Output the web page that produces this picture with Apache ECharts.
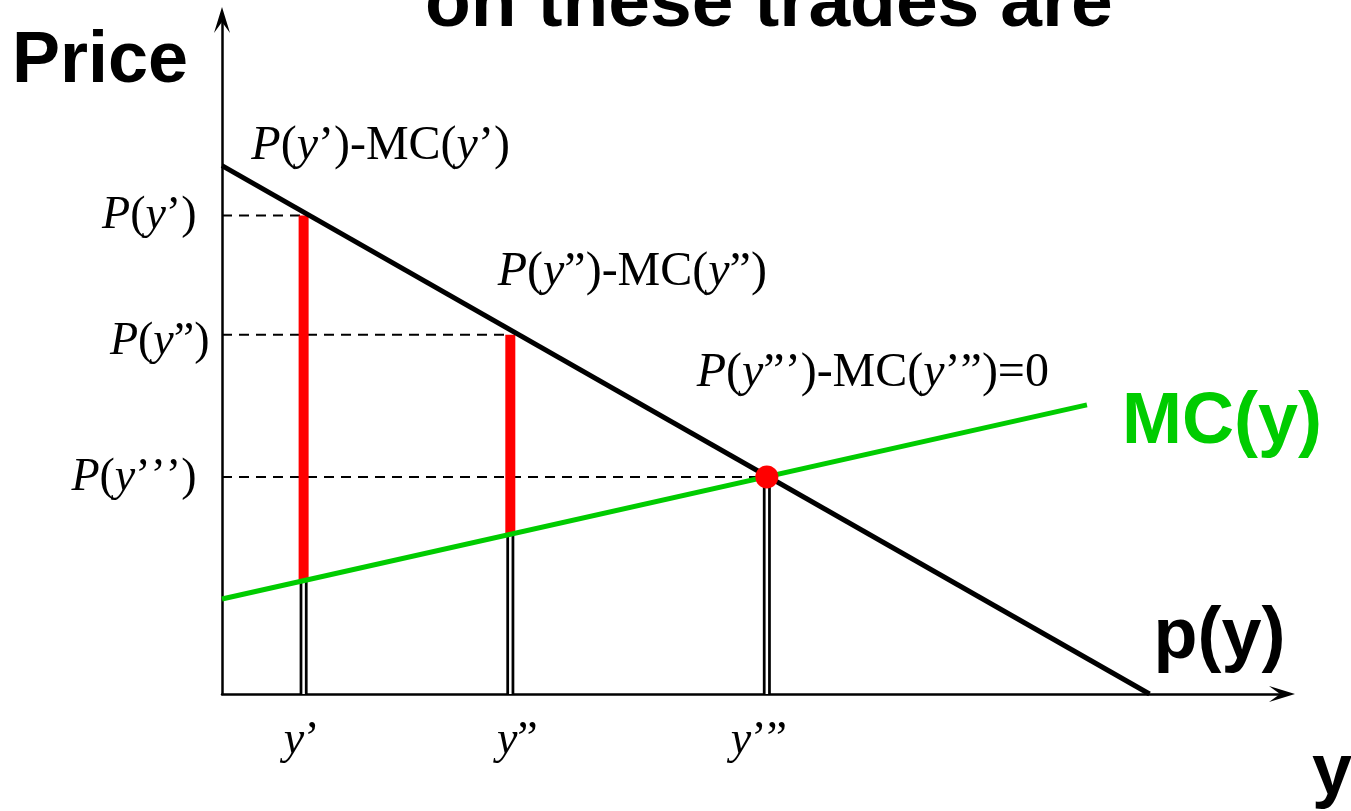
<!DOCTYPE html>
<html lang="en">
<head>
    <meta charset="UTF-8">
    <title>Gains from trade: P(y) - MC(y)</title>
    <script type="text/javascript" src="https://cdn.jsdelivr.net/npm/echarts@6/dist/echarts.min.js"></script>
    <style>
        html, body { margin: 0; padding: 0; background: #fff; }
    </style>
</head>
<body>
<div id="chart" style="width:1351px;height:811px;"></div>
<script type="text/javascript">
    // quantities y', y'', y''' and the prices / marginal costs
    var qty = [7.7, 27.2, 51.4];
    var price = [71.0, 53.3, 32.2];
    var mcAtQty = [16.9, 23.7, 32.2];

    // end points of the two straight lines
    var demand = [[0, 78.4], [87.5, 0]];
    var mc = [[0, 14.1], [81.6, 42.9]];

    var qtyLabels = ['y’', 'y”', 'y’”'];
    var priceLabels = ['P(y’)', 'P(y”)', 'P(y’’’)'];
    var gapLabels = ['P(y’)-MC(y’)', 'P(y”)-MC(y”)', 'P(y”’)-MC(y’”)=0'];

    var serifFont = 'Liberation Serif';
    var sansFont = 'Liberation Sans';

    // P and y in italic, everything else upright
    function serif(s, key) {
        var out = '';
        for (var i = 0; i < s.length; i++) {
            var c = s[i];
            out += (c === 'P' || c === 'y') ? '{' + key + 'i|' + c + '}' : '{' + key + 'n|' + c + '}';
        }
        return out;
    }

    var rich = {
        si: {fontFamily: serifFont, fontStyle: 'italic', fontSize: 46, color: '#000'},
        sn: {fontFamily: serifFont, fontSize: 46, color: '#000'},
        bi: {fontFamily: serifFont, fontStyle: 'italic', fontSize: 48, color: '#000'},
        bn: {fontFamily: serifFont, fontSize: 48, color: '#000'}
    };

    // arrow head pointing up, with a notched back
    var arrow = 'path://M8,0 L16,26 L8,15 L0,26 Z';

    function seg(data, color, width, extra) {
        var s = {
            type: 'line',
            data: data,
            symbol: 'none',
            silent: true,
            animation: false,
            lineStyle: {color: color, width: width, cap: 'butt', opacity: 1}
        };
        if (extra) {
            for (var k in extra) s.lineStyle[k] = extra[k];
        }
        return s;
    }

    var series = [];

    // double stems from the axis up to MC
    for (var i = 0; i < qty.length; i++) {
        series.push(seg([[qty[i], 0], [qty[i], mcAtQty[i]]], '#000', 8));
        series.push(seg([[qty[i], 0], [qty[i], mcAtQty[i]]], '#fff', 2.5));
    }
    // dashed price guides
    for (var i = 0; i < qty.length; i++) {
        series.push(seg([[0, price[i]], [qty[i], price[i]]], '#000', 2, {type: [10, 7]}));
    }
    // red gaps P - MC
    for (var i = 0; i < 2; i++) {
        series.push(seg([[qty[i], mcAtQty[i]], [qty[i], price[i]]], '#ff0000', 10));
    }
    series.push(seg(mc, '#00cc00', 5));
    series.push(seg(demand, '#000', 5));

    // equilibrium dot
    series.push({
        type: 'scatter',
        data: [[qty[2], price[2]]],
        symbolSize: 23,
        silent: true,
        animation: false,
        itemStyle: {color: '#ff0000', opacity: 1},
        z: 5
    });

    // text labels pinned to data points
    var qtyOffsets = [[-2, 47], [7, 47], [-8, 47]];
    var priceDist = [25, 12, 25];
    var priceOffsets = [[0, 0], [0, 7], [0, 1]];
    var gapOffsets = [[77, -69], [122, -62], [106, -104]];
    var textData = [];
    for (var i = 0; i < qty.length; i++) {
        textData.push({
            value: [qty[i], 0],
            label: {show: true, position: 'inside', offset: qtyOffsets[i], formatter: serif(qtyLabels[i], 's'), rich: rich}
        });
        textData.push({
            value: [0, price[i]],
            label: {show: true, position: 'left', distance: priceDist[i], offset: priceOffsets[i], formatter: serif(priceLabels[i], 's'), rich: rich}
        });
        textData.push({
            value: [qty[i], price[i]],
            label: {show: true, position: 'inside', offset: gapOffsets[i], formatter: serif(gapLabels[i], 'b'), rich: rich}
        });
    }
    textData.push({
        value: mc[1],
        label: {show: true, position: 'inside', offset: [135, 18], formatter: 'MC(y)',
            fontFamily: sansFont, fontWeight: 'bold', fontSize: 72, color: '#00cc00'}
    });
    textData.push({
        value: demand[1],
        label: {show: true, position: 'inside', offset: [70, -56], formatter: 'p(y)',
            fontFamily: sansFont, fontWeight: 'bold', fontSize: 72, color: '#000'}
    });
    series.push({
        type: 'scatter',
        data: textData,
        symbolSize: 1,
        silent: true,
        animation: false,
        itemStyle: {color: 'rgba(0,0,0,0)', opacity: 1},
        z: 6
    });

    var axisCommon = {
        type: 'value',
        min: 0,
        max: 100,
        splitLine: {show: false},
        axisTick: {show: false},
        axisLabel: {show: false},
        axisLine: {
            show: true,
            symbol: ['none', arrow],
            symbolSize: [16, 26],
            lineStyle: {color: '#000', width: 2.5}
        }
    };

    var myChart = echarts.init(document.getElementById('chart'));
    var option = {
        backgroundColor: '#fff',
        animation: false,
        grid: {left: 222, top: 20, right: 69, bottom: 117, containLabel: false, outerBoundsMode: 'none'},
        xAxis: axisCommon,
        yAxis: axisCommon,
        graphic: [
            {type: 'text', left: 425, top: -32, silent: true,
                style: {text: 'on these trades are', font: 'bold 75px "Liberation Sans"', fill: '#000'}},
            {type: 'text', left: 12, top: 26, silent: true,
                style: {text: 'Price', font: 'bold 72px "Liberation Sans"', fill: '#000'}},
            {type: 'text', left: 1312, top: 738, silent: true,
                style: {text: 'y', font: 'bold 72px "Liberation Sans"', fill: '#000'}}
        ],
        series: series
    };
    myChart.setOption(option);
</script>
</body>
</html>
